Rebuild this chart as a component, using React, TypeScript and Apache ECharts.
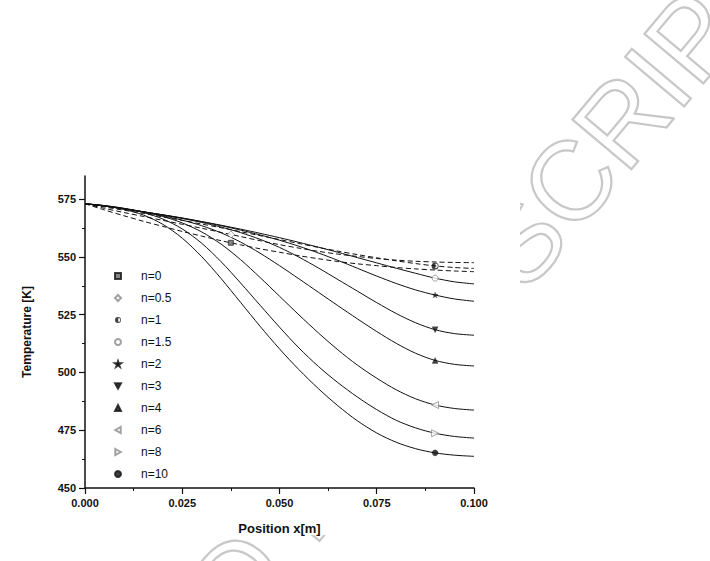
import React, { useEffect, useRef } from 'react';
import * as echarts from 'echarts';

const FONT = '"Liberation Sans", Arial, Helvetica, sans-serif';

// position along the rod [m]
const xs = [
  0, 0.005, 0.01, 0.015, 0.02, 0.025, 0.03, 0.035, 0.04, 0.045, 0.05,
  0.055, 0.06, 0.065, 0.07, 0.075, 0.08, 0.085, 0.09, 0.095, 0.1,
];

const seriesNames = ['n=0', 'n=0.5', 'n=1', 'n=1.5', 'n=2', 'n=3', 'n=4', 'n=6', 'n=8', 'n=10'];

// temperature [K]
const n0 = [573, 570.3, 567.8, 565.4, 563.2, 561, 559, 557, 555.2, 553.5, 552, 550.5, 549.2, 548, 547, 546.2, 545.4, 544.8, 544.3, 543.9, 543.6];
const n05 = [573, 571, 569.2, 567.5, 565.8, 564.1, 562.4, 560.6, 558.8, 557, 555.3, 553.8, 552.4, 551.2, 550.2, 549.3, 548.6, 548.1, 547.8, 547.6, 547.5];
const n1 = [573, 571.6, 570.2, 568.8, 567.3, 565.8, 564.2, 562.6, 560.9, 559.2, 557.5, 555.8, 554.1, 552.5, 551, 549.6, 548.3, 547.1, 546.1, 545.4, 545];
const n15 = [573, 572, 570.8, 569.5, 568.2, 566.8, 565.3, 563.7, 562, 560.2, 558.3, 556.3, 554.2, 552, 549.7, 547.4, 545.1, 542.9, 540.8, 539.2, 538.3];
const n2 = [573, 572, 570.8, 569.5, 568.2, 566.8, 565.2, 563.5, 561.6, 559.5, 557.2, 554.6, 551.7, 548.5, 545.1, 541.7, 538.5, 535.7, 533.5, 531.8, 530.8];
const n3 = [573, 572, 570.8, 569.5, 568.1, 566.6, 564.9, 562.9, 560.5, 557.6, 554.1, 549.9, 545.2, 540.2, 535.2, 530.2, 525.5, 521.5, 518.5, 516.8, 516.1];
const n4 = [573, 572, 570.8, 569.4, 567.8, 565.9, 563.5, 560.4, 556.4, 551.6, 546.2, 540.5, 534.7, 528.9, 523.2, 517.7, 512.6, 508.3, 505.2, 503.5, 502.8];
const n6 = [573, 572.2, 571, 569.5, 567.5, 564.7, 560.8, 555.5, 548.8, 541.1, 533, 524.9, 517.1, 509.8, 503.2, 497.5, 492.5, 488.6, 485.9, 484.4, 483.7];
const n8 = [573, 572.2, 571, 569.2, 566.4, 562.1, 555.9, 547.9, 538.7, 529.1, 519.6, 510.6, 502.6, 495.6, 489.4, 483.9, 479.3, 476, 473.7, 472.3, 471.6];
const n10 = [573, 572.1, 570.6, 568.1, 564.1, 558.1, 550.1, 540.6, 530.3, 520, 510.2, 501.2, 493, 485.6, 479.1, 473.8, 469.8, 467, 465.2, 464.2, 463.7];

const curves = [n0, n05, n1, n15, n2, n3, n4, n6, n8, n10];

// one symbol per curve
const markerX = [0.0375, 0.0375, 0.09, 0.09, 0.09, 0.09, 0.09, 0.09, 0.09, 0.09];
const markerY = [556.1, 559.7, 546.1, 540.8, 533.5, 518.5, 505.2, 485.9, 473.7, 465.2];

const xTicks = [0, 0.025, 0.05, 0.075, 0.1];
const yTicks = [450, 475, 500, 525, 550, 575];
const yMinorTicks = [462.5, 487.5, 512.5, 537.5, 562.5];

const HALF_CIRCLE =
  'path://M5,0 A5,5 0 1,1 5,10 A5,5 0 1,1 5,0 Z M5.5,1.6 L5.5,8.4 A3.4,3.4 0 0,0 5.5,1.6 Z';
const STAR =
  'path://M5,0 L6.2,3.6 L10,3.6 L6.9,5.8 L8.1,9.5 L5,7.2 L1.9,9.5 L3.1,5.8 L0,3.6 L3.8,3.6 Z';
const TRI_DOWN = 'path://M0,0 L10,0 L5,9 Z';
const TRI_LEFT = 'path://M0,5 L9,0 L9,10 Z';
const TRI_RIGHT = 'path://M0,0 L9,5 L0,10 Z';

const OPEN = { color: '#fff', borderColor: '#8a8a8a', borderWidth: 1 };
const SOLID = { color: '#111', borderColor: '#111', borderWidth: 0.3 };

const markerStyles: any[] = [
  { symbol: 'rect', size: 5, item: { color: '#666', borderColor: '#111', borderWidth: 0.8 } },
  { symbol: 'diamond', size: 7, item: OPEN },
  { symbol: HALF_CIRCLE, size: 7, item: { color: '#111', borderWidth: 0 } },
  { symbol: 'circle', size: 6, item: OPEN },
  { symbol: STAR, size: 6, item: SOLID },
  { symbol: TRI_DOWN, size: 6, item: SOLID },
  { symbol: 'triangle', size: 6, item: SOLID },
  { symbol: TRI_LEFT, size: 7, item: OPEN },
  { symbol: TRI_RIGHT, size: 7, item: OPEN },
  { symbol: 'circle', size: 6, item: SOLID },
];

const dashed = [true, true, true, false, false, false, false, false, false, false];

const App = (): JSX.Element => {
  const divEL = useRef<HTMLDivElement>(null);

  useEffect(() => {
    document.body.style.margin = '0';
    const instance = echarts.init(divEL.current as any, null, { renderer: 'svg' });

    const lineSeries: any[] = curves.map((vals, i) => ({
      name: seriesNames[i] + ' curve',
      type: 'line',
      data: xs.map((x, j) => [x, vals[j]]),
      showSymbol: false,
      symbol: 'none',
      smooth: 0.3,
      lineStyle: {
        color: '#111',
        width: 1,
        type: dashed[i] ? [5, 3] : 'solid',
      },
      z: 2,
      silent: true,
    }));

    const markerSeries: any[] = seriesNames.map((name, i) => ({
      name,
      type: 'scatter',
      data: [[markerX[i], markerY[i]]],
      symbol: markerStyles[i].symbol,
      symbolSize: markerStyles[i].size,
      itemStyle: markerStyles[i].item,
      z: 3,
    }));

    const option: any = {
      animation: false,
      backgroundColor: '#fff',
      textStyle: { fontFamily: FONT },
      graphic: [
        {
          type: 'text',
          z: -10,
          silent: true,
          x: 760,
          y: -44,
          rotation: (50 * Math.PI) / 180,
          style: {
            text: 'ACCEPTED MANUSCRIPT',
            fontFamily: FONT,
            fontSize: 112,
            fill: 'rgba(0,0,0,0)',
            stroke: '#c8c8c8',
            lineWidth: 2.2,
            align: 'right',
            verticalAlign: 'middle',
          },
        },
        {
          type: 'rect',
          z: -5,
          silent: true,
          shape: { x: 0, y: 150, width: 520, height: 385 },
          style: { fill: '#fff' },
        },
      ],
      legend: {
        data: seriesNames,
        orient: 'vertical',
        left: 114,
        top: 270,
        padding: 0,
        itemWidth: 6,
        itemHeight: 6,
        itemGap: 10,
        textStyle: {
          fontFamily: FONT,
          fontSize: 12,
          color: '#111',
          lineHeight: 12,
          padding: [0, 0, 0, 15],
        },
        selectedMode: false,
      },
      grid: {
        left: 85,
        top: 176,
        width: 389,
        height: 312,
        containLabel: false,
      },
      xAxis: {
        type: 'value',
        min: 0,
        max: 0.1,
        interval: 0.025,
        name: 'Position x[m]',
        nameLocation: 'middle',
        nameGap: 34,
        nameTextStyle: { fontFamily: FONT, fontSize: 13, fontWeight: 'bold', color: '#111' },
        axisLine: { show: true, lineStyle: { color: '#111', width: 1.5 } },
        axisTick: { show: true, length: 6, lineStyle: { color: '#111', width: 1.2 }, customValues: xTicks },
        minorTick: { show: true, splitNumber: 2, length: 3, lineStyle: { color: '#111', width: 1 } },
        axisLabel: {
          customValues: xTicks,
          formatter: (v: number) => v.toFixed(3),
          fontFamily: FONT,
          fontSize: 11,
          fontWeight: 'bold',
          color: '#111',
          margin: 9,
        },
        splitLine: { show: false },
      },
      yAxis: [
        {
          type: 'value',
          min: 450,
          max: 585,
          interval: 25,
          name: 'Temperature [K]',
          nameLocation: 'middle',
          nameGap: 52,
          nameTextStyle: { fontFamily: FONT, fontSize: 12, fontWeight: 'bold', color: '#111' },
          axisLine: { show: true, lineStyle: { color: '#111', width: 1.5 } },
          axisTick: { show: true, length: 6, lineStyle: { color: '#111', width: 1.2 }, customValues: yTicks },
          axisLabel: {
            customValues: yTicks,
            fontFamily: FONT,
            fontSize: 11,
            fontWeight: 'bold',
            color: '#111',
            margin: 9,
          },
          splitLine: { show: false },
        },
        {
          type: 'value',
          min: 450,
          max: 585,
          position: 'left',
          axisLine: { show: false },
          axisTick: { show: true, length: 3, lineStyle: { color: '#111', width: 1 }, customValues: yMinorTicks },
          axisLabel: { show: false },
          splitLine: { show: false },
        },
      ],
      series: [...lineSeries, ...markerSeries],
    };

    instance.setOption(option);

    return () => {
      instance.dispose();
    };
  }, []);

  return <div ref={divEL} style={{ width: 710, height: 561 }}></div>;
};

export default App;
